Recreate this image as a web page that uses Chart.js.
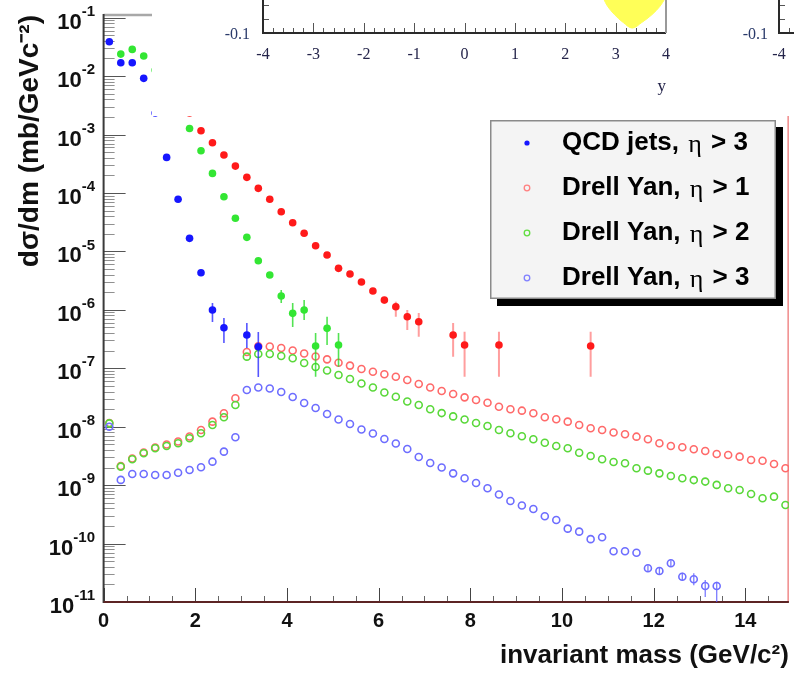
<!DOCTYPE html>
<html>
<head>
<meta charset="utf-8">
<script src="https://cdn.jsdelivr.net/npm/chart.js@4.4.1/dist/chart.umd.min.js"></script>
<style>
 html,body{margin:0;padding:0;background:#fff;overflow:hidden;}
 #wrap{position:relative;width:794px;height:673px;}
 #mainChart{position:absolute;left:0;top:0;}
 #overlay{position:absolute;left:152px;top:0;width:642px;height:116px;background:#fff;overflow:hidden;}
 #insetA{position:absolute;left:0;top:0;}
 #insetBBox{position:absolute;left:538px;top:0;width:104px;height:116px;overflow:hidden;}
 #insetB{position:absolute;left:0;top:0;}
</style>
</head>
<body>
<div id="wrap">
 <canvas id="mainChart" width="794" height="673"></canvas>
 <div id="overlay">
  <canvas id="insetA" width="642" height="116"></canvas>
  <div id="insetBBox"><canvas id="insetB" width="560" height="116"></canvas></div>
 </div>
</div>
<script>
// ---------------- data ----------------
const legendLabels = ['QCD jets, η > 3', 'Drell Yan, η > 1', 'Drell Yan, η > 2', 'Drell Yan, η > 3'];

// bin centres (GeV/c^2) of the Drell-Yan histograms
const dyMass = [0.125,0.375,0.625,0.875,1.125,1.375,1.625,1.875,2.125,2.375,2.625,2.875,3.125,3.375,3.625,3.875,4.125,4.375,4.625,4.875,
 5.125,5.375,5.625,5.875,6.125,6.375,6.625,6.875,7.125,7.375,7.625,7.875,8.125,8.375,8.625,8.875,9.125,9.375,9.625,9.875,
 10.125,10.375,10.625,10.875,11.125,11.375,11.625,11.875,12.125,12.375,12.625,12.875,13.125,13.375,13.625,13.875,14.125,14.375,14.625,14.875];

const dyEta1 = [1.16e-8,2.13e-9,2.86e-9,3.62e-9,4.41e-9,4.96e-9,5.58e-9,6.80e-9,8.79e-9,1.22e-8,
 1.70e-8,3.06e-8,1.90e-7,2.37e-7,2.36e-7,2.22e-7,2.01e-7,1.79e-7,1.59e-7,1.42e-7,
 1.24e-7,1.11e-7,9.71e-8,8.73e-8,7.88e-8,7.17e-8,6.30e-8,5.38e-8,4.69e-8,4.08e-8,
 3.63e-8,3.18e-8,2.86e-8,2.57e-8,2.20e-8,1.99e-8,1.88e-8,1.70e-8,1.45e-8,1.34e-8,
 1.22e-8,1.07e-8,9.39e-9,8.79e-9,7.96e-9,7.41e-9,6.75e-9,6.09e-9,5.20e-9,4.68e-9,
 4.44e-9,4.10e-9,3.84e-9,3.41e-9,3.28e-9,3.07e-9,2.69e-9,2.62e-9,2.30e-9,1.94e-9];

const dyEta2 = [1.14e-8,2.07e-9,2.77e-9,3.51e-9,4.27e-9,4.68e-9,5.20e-9,6.33e-9,7.71e-9,1.07e-8,
 1.45e-8,2.35e-8,1.58e-7,1.75e-7,1.75e-7,1.62e-7,1.48e-7,1.23e-7,1.05e-7,9.16e-8,
 7.67e-8,6.55e-8,5.48e-8,4.69e-8,3.85e-8,3.26e-8,2.70e-8,2.35e-8,1.99e-8,1.71e-8,
 1.50e-8,1.33e-8,1.16e-8,1.03e-8,8.79e-9,7.71e-9,6.85e-9,6.09e-9,5.32e-9,4.68e-9,
 4.27e-9,3.59e-9,3.15e-9,2.77e-9,2.49e-9,2.37e-9,1.94e-9,1.77e-9,1.59e-9,1.43e-9,
 1.31e-9,1.22e-9,1.15e-9,1.01e-9,8.83e-10,8.26e-10,7.06e-10,5.96e-10,6.35e-10,4.57e-10];

const dyEta3 = [1.00e-8,1.23e-9,1.55e-9,1.55e-9,1.49e-9,1.49e-9,1.63e-9,1.82e-9,2.02e-9,2.52e-9,
 3.74e-9,6.59e-9,4.25e-8,4.69e-8,4.51e-8,3.92e-8,3.22e-8,2.54e-8,2.09e-8,1.65e-8,
 1.33e-8,1.11e-8,8.95e-9,7.65e-9,6.16e-9,5.16e-9,4.15e-9,3.03e-9,2.39e-9,2.00e-9,
 1.59e-9,1.31e-9,1.09e-9,8.83e-10,6.92e-10,5.36e-10,4.49e-10,3.91e-10,2.93e-10,2.53e-10,
 1.80e-10,1.60e-10,1.19e-10,1.28e-10,7.38e-11,7.38e-11,6.98e-11,3.78e-11,3.40e-11,4.60e-11,
 2.71e-11,2.45e-11,1.88e-11,1.88e-11];
const dyEta3ErrMass = [11.875,12.125,12.375,12.625,12.875,13.125,13.375];
const dyEta3ErrLo   = [3.36e-11,2.90e-11,4.09e-11,2.32e-11,1.94e-11,1.22e-11,1.00e-11];
const dyEta3ErrHi   = [4.25e-11,3.98e-11,5.18e-11,3.18e-11,3.10e-11,2.38e-11,2.23e-11];

// QCD jets, eta > 3 (filled blue)
const qcdEta3Mass = [0.125,0.375,0.625,0.875,1.125,1.375,1.625,1.875,2.125,2.375,2.625,3.125,3.375];
const qcdEta3     = [3.86e-2,1.69e-2,1.69e-2,9.14e-3,2.33e-3,4.06e-4,7.78e-5,1.67e-5,4.31e-6,9.92e-7,4.94e-7,3.71e-7,2.34e-7];
const qcdEta3ErrMass = [2.375,2.625,3.125,3.375];
const qcdEta3ErrLo   = [6.18e-7,2.70e-7,2.22e-7,7.08e-8];
const qcdEta3ErrHi   = [1.31e-6,7.24e-7,5.94e-7,4.17e-7];

// filled red points (eta > 1)
const qcdEta1Mass = [1.875,2.125,2.375,2.625,2.875,3.125,3.375,3.625,3.875,4.125,4.375,4.625,4.875,5.125,5.375,5.625,5.875,6.125,6.375,6.625,6.875,7.625,7.875,8.625,10.625];
const qcdEta1     = [2.33e-3,1.16e-3,7.22e-4,4.45e-4,2.88e-4,1.85e-4,1.20e-4,7.78e-5,4.77e-5,3.09e-5,2.04e-5,1.25e-5,8.66e-6,5.13e-6,4.10e-6,2.99e-6,2.10e-6,1.47e-6,1.13e-6,7.62e-7,6.26e-7,3.71e-7,2.50e-7,2.50e-7,2.40e-7];
const qcdEta1ErrMass = [6.125,6.375,6.625,6.875,7.625,7.875,8.625,10.625];
const qcdEta1ErrLo   = [1.26e-6,7.62e-7,4.51e-7,3.47e-7,1.58e-7,7.17e-8,7.17e-8,7.17e-8];
const qcdEta1ErrHi   = [1.66e-6,1.38e-6,9.92e-7,8.81e-7,5.94e-7,4.22e-7,4.22e-7,4.22e-7];

// filled green points (eta > 2)
const qcdEta2Mass = [0.375,0.625,0.875,1.125,1.875,2.125,2.375,2.625,2.875,3.125,3.375,3.625,3.875,4.125,4.375,4.625,4.875,5.125];
const qcdEta2     = [2.38e-2,2.86e-2,2.20e-2,1.27e-2,1.27e-3,5.27e-4,2.16e-4,8.61e-5,3.68e-5,1.74e-5,6.92e-6,3.94e-6,1.72e-6,8.71e-7,9.92e-7,2.40e-7,4.82e-7,2.50e-7];
const qcdEta2ErrMass = [3.875,4.125,4.375,4.625,4.875,5.125];
const qcdEta2ErrLo   = [1.31e-6,5.08e-7,6.69e-7,7.17e-8,2.50e-7,1.06e-7];
const qcdEta2ErrHi   = [2.18e-6,1.31e-6,1.47e-6,4.01e-7,7.62e-7,4.01e-7];

// axes
const xTickValues = [0,2,4,6,8,10,12,14];
const xTickLabels = ['0','2','4','6','8','10','12','14'];
const yTickValues = [1e-1,1e-2,1e-3,1e-4,1e-5,1e-6,1e-7,1e-8,1e-9,1e-10,1e-11];
const yTickBase = '10';
const yTickExponents = ['-1','-2','-3','-4','-5','-6','-7','-8','-9','-10','-11'];

// partially visible inset (overlapping picture)
const insetXTickValues = [-4,-3,-2,-1,0,1,2,3,4];
const insetXTickLabels = ['-4','-3','-2','-1','0','1','2','3','4'];
const insetYTickValues = [-0.1];
const insetYTickLabels = ['-0.1'];
const insetShapeX = [2.76,2.84,2.98,3.15,3.33,3.52,3.72,3.88,3.98];
const insetShapeY = [-0.0755,-0.0810,-0.0870,-0.0925,-0.0965,-0.0925,-0.0870,-0.0810,-0.0755];

// ---------------- drawing ----------------
const FONT = "'Liberation Sans', Arial, Helvetica, sans-serif";
const SERIF = "'Liberation Serif', 'Times New Roman', serif";
Chart.defaults.font.family = FONT;

function seg(ctx,x1,y1,x2,y2){ctx.beginPath();ctx.moveTo(x1,y1);ctx.lineTo(x2,y2);ctx.stroke();}
const pts = (xs, ys) => ys.map((y,i)=>({x:xs[i], y}));

const errorSets = [
 {ds:0, mass:qcdEta3ErrMass, lo:qcdEta3ErrLo, hi:qcdEta3ErrHi, color:'rgba(30,30,255,0.75)', width:1.6},
 {ds:4, mass:qcdEta1ErrMass, lo:qcdEta1ErrLo, hi:qcdEta1ErrHi, color:'rgba(255,40,40,0.45)', width:2},
 {ds:5, mass:qcdEta2ErrMass, lo:qcdEta2ErrLo, hi:qcdEta2ErrHi, color:'rgba(40,220,40,0.8)', width:1.6},
 {ds:3, mass:dyEta3ErrMass, lo:dyEta3ErrLo, hi:dyEta3ErrHi, color:'rgba(90,90,255,0.8)', width:1.3}
];

const errorBarPlugin = {
 id:'errorBars',
 beforeDatasetDraw(chart,args){
  const sets = errorSets.filter(s=>s.ds===args.index); if(!sets.length) return;
  const {ctx, chartArea:a, scales:{x,y}} = chart;
  ctx.save(); ctx.beginPath(); ctx.rect(a.left,a.top,a.right-a.left,a.bottom-a.top); ctx.clip();
  sets.forEach(s=>{ ctx.strokeStyle=s.color; ctx.lineWidth=s.width;
   s.mass.forEach((m,i)=>{ const px=x.getPixelForValue(m); seg(ctx,px,y.getPixelForValue(s.lo[i]),px,y.getPixelForValue(s.hi[i])); });
  });
  ctx.restore();
 }
};

const rootFrame = {
 id:'rootFrame',
 beforeDatasetsDraw(chart){
  const {ctx, chartArea:a, scales} = chart; const xs=scales.x, ys=scales.y;
  ctx.save();
  ctx.strokeStyle='#a8a8a8'; ctx.lineWidth=2.5; seg(ctx,a.left,a.top,a.right,a.top);
  ctx.strokeStyle='#f08a8a'; ctx.lineWidth=1.5; seg(ctx,a.right-0.75,a.top,a.right-0.75,a.bottom);
  ctx.lineWidth=1;
  for (let e=-11;e<=-1;e++){
   for (let m=1;m<=9;m++){
    const v=m*Math.pow(10,e); if (v>ys.max*1.0001) break;
    const py=Math.round(ys.getPixelForValue(v))+0.5;
    ctx.strokeStyle = m===1?'#555':'#909090';
    seg(ctx,a.left,py,a.left+(m===1?22:11),py);
   }
  }
  for (let i=0; i*0.5<=xs.max+1e-9; i++){
   const v=i*0.5;
   const px=Math.round(xs.getPixelForValue(v))+0.5;
   const major = (i%4===0);
   ctx.strokeStyle= major?'#444':'#666';
   seg(ctx,px,a.bottom,px,a.bottom-(major?14:6));
  }
  ctx.strokeStyle='#3a3a3a'; ctx.lineWidth=2; seg(ctx,a.left,a.top-1,a.left,a.bottom+1);
  ctx.strokeStyle='#5c2424'; seg(ctx,a.left,a.bottom,a.right,a.bottom);
  ctx.restore();
 },
 afterDraw(chart){
  const {ctx, scales:{y}} = chart;
  ctx.save(); ctx.fillStyle='#111'; ctx.textBaseline='middle';
  const rightEdge = 95;
  yTickValues.forEach((v,i)=>{
   const py = y.getPixelForValue(v);
   ctx.font = 'bold 15px '+FONT; const ew = ctx.measureText(yTickExponents[i]).width;
   ctx.textAlign='left'; ctx.fillText(yTickExponents[i], rightEdge-ew, py-6);
   ctx.font = 'bold 22px '+FONT; ctx.textAlign='right'; ctx.fillText(yTickBase, rightEdge-ew, py+5);
  });
  ctx.restore();
 }
};

function drawLegendLabel(ctx, text, x, y){
 const parts = text.split('η');
 ctx.textBaseline='middle'; ctx.textAlign='left'; ctx.fillStyle='#000';
 let cx = x;
 parts.forEach((p,i)=>{
  if(i>0){ ctx.font = '26px '+SERIF; cx += 2; ctx.fillText('η', cx, y+2); cx += ctx.measureText('η').width + 2; }
  ctx.font = 'bold 26px '+FONT; ctx.fillText(p, cx, y); cx += ctx.measureText(p).width;
 });
}
const legendOrder = [0,1,2,3];
const legendPlugin = {
 id:'rootLegend',
 afterDatasetsDraw(chart){
  const {ctx} = chart;
  const bx=490, by=120, bw=286, bh=179, sh=7;
  ctx.save();
  ctx.fillStyle='#000'; ctx.fillRect(bx+sh, by+sh, bw, bh);
  ctx.fillStyle='#f4f4f4'; ctx.fillRect(bx, by, bw, bh);
  ctx.strokeStyle='#8a8a8a'; ctx.lineWidth=1.5; ctx.strokeRect(bx+0.75, by+0.75, bw-1.5, bh-1.5);
  legendOrder.forEach((di,row)=>{
   const ds = chart.data.datasets[di]; const cy = 143 + row*45;
   ctx.beginPath(); ctx.arc(527, cy, ds.legendFilled?2.6:2.8, 0, 2*Math.PI);
   if (ds.legendFilled){ ctx.fillStyle=ds.backgroundColor; ctx.fill(); }
   else { ctx.strokeStyle=ds.legendColor; ctx.lineWidth=1.3; ctx.stroke(); }
   drawLegendLabel(ctx, ds.label, 562, cy);
  });
  ctx.restore();
 }
};

const openStyle = (c) => ({pointRadius:3.5, pointHoverRadius:3.5, backgroundColor:'rgba(0,0,0,0)', borderColor:c, borderWidth:1.6, showLine:false});
const filledStyle = (c) => ({pointRadius:3.8, pointHoverRadius:3.8, backgroundColor:c, borderColor:c, borderWidth:0, showLine:false});

new Chart(document.getElementById('mainChart'), {
 type:'scatter',
 data:{datasets:[
  Object.assign({label:legendLabels[0], data:pts(qcdEta3Mass,qcdEta3), order:1, legendFilled:true}, filledStyle('#1616ff')),
  Object.assign({label:legendLabels[1], data:pts(dyMass,dyEta1), order:6, legendColor:'#ff8080'}, openStyle('#ff6a6a')),
  Object.assign({label:legendLabels[2], data:pts(dyMass,dyEta2), order:5, legendColor:'#60dd40'}, openStyle('#5ad83a')),
  Object.assign({label:legendLabels[3], data:pts(dyMass,dyEta3), order:4, legendColor:'#8080ff'}, openStyle('#6e6eff')),
  Object.assign({label:'QCD jets, η > 1', data:pts(qcdEta1Mass,qcdEta1), order:2}, filledStyle('#ff1a1a')),
  Object.assign({label:'QCD jets, η > 2', data:pts(qcdEta2Mass,qcdEta2), order:3}, filledStyle('#33e633'))
 ]},
 options:{
  responsive:false, animation:false, devicePixelRatio:1, events:[],
  layout:{padding:{top:15,right:2,left:0,bottom:0}},
  plugins:{legend:{display:false}, tooltip:{enabled:false}},
  scales:{
   x:{type:'linear', min:0, max:14.95,
    afterBuildTicks:s=>{s.ticks = xTickValues.map(v=>({value:v}));},
    afterFit:s=>{s.height=71;},
    ticks:{callback:(v,i)=>xTickLabels[i], autoSkip:false, maxRotation:0, color:'#111', padding:7, font:{family:FONT,size:20,weight:'bold'}},
    grid:{display:false, drawTicks:false}, border:{display:false},
    title:{display:true, text:'invariant mass (GeV/c²)', align:'end', color:'#111', font:{family:FONT,size:26,weight:'bold'}, padding:{top:0,bottom:2}}
   },
   y:{type:'logarithmic', min:1e-11, max:0.111,
    afterFit:s=>{s.width=103.6;},
    ticks:{display:false},
    grid:{display:false, drawTicks:false}, border:{display:false},
    title:{display:true, text:'dσ/dm (mb/GeVc⁻²)', align:'end', color:'#111', font:{family:FONT,size:28,weight:'bold'}, padding:{top:13,bottom:0}}
   }
  }
 },
 plugins:[rootFrame, errorBarPlugin, legendPlugin]
});

// ---------- overlapping inset pieces ----------
function makeInsetAxes(labelPad){
 return {
  id:'insetAxes',
  afterDraw(chart){
   const {ctx, chartArea:a, scales:{x,y}} = chart;
   ctx.save(); ctx.lineWidth=1; ctx.strokeStyle='#555';
   for (let i=0;i<=40;i++){
    const v=-4+i*0.2; const px=Math.round(x.getPixelForValue(v))+0.5;
    seg(ctx,px,a.bottom,px,a.bottom-(i%5===0?10:5));
   }
   [-0.09,-0.08].forEach(v=>{ const py=Math.round(y.getPixelForValue(v))+0.5; seg(ctx,a.left,py,a.left+6,py); });
   ctx.lineWidth=2; ctx.strokeStyle='#2a2a2a';
   seg(ctx,a.left,a.bottom,a.right,a.bottom); seg(ctx,a.left,a.top,a.left,a.bottom+1);
   ctx.strokeStyle='#999'; seg(ctx,a.right,a.top,a.right,a.bottom);
   ctx.font='16px '+SERIF; ctx.fillStyle='#2a3a6a'; ctx.textAlign='right'; ctx.textBaseline='middle';
   insetYTickValues.forEach((v,i)=>{ ctx.fillText(insetYTickLabels[i], a.left-labelPad, y.getPixelForValue(v)+2); });
   ctx.restore();
  }
 };
}
function insetOptions(padRight, yWidth){
 return {
  responsive:false, animation:false, devicePixelRatio:1, events:[],
  layout:{padding:{top:0,right:padRight,left:0,bottom:0}},
  plugins:{legend:{display:false}, tooltip:{enabled:false}},
  scales:{
   x:{type:'linear',min:-4,max:4,
    afterBuildTicks:s=>{s.ticks=insetXTickValues.map(v=>({value:v}));}, afterFit:s=>{s.height=83;},
    ticks:{callback:(v,i)=>insetXTickLabels[i], autoSkip:false, maxRotation:0, font:{family:SERIF,size:16}, color:'#24244a', padding:12},
    grid:{display:false,drawTicks:false}, border:{display:false},
    title:{display:true, text:'y', align:'end', color:'#24244a', font:{family:SERIF,size:17}, padding:{top:0,bottom:19}}},
   y:{type:'linear',min:-0.1,max:-0.0765,
    afterFit:s=>{s.width=yWidth;},
    ticks:{display:false},
    grid:{display:false,drawTicks:false}, border:{display:false}}
  }
 };
}
new Chart(document.getElementById('insetA'), {
 type:'line',
 data:{datasets:[{data:pts(insetShapeX,insetShapeY), fill:'end', backgroundColor:'#ffff58', borderColor:'#ffff58', borderWidth:1, pointRadius:0, tension:0.35}]},
 options:insetOptions(128, 111),
 plugins:[makeInsetAxes(13)]
});
new Chart(document.getElementById('insetB'), {
 type:'line',
 data:{datasets:[{data:[], pointRadius:0}]},
 options:insetOptions(68, 89),
 plugins:[makeInsetAxes(11)]
});
</script>
</body>
</html>
